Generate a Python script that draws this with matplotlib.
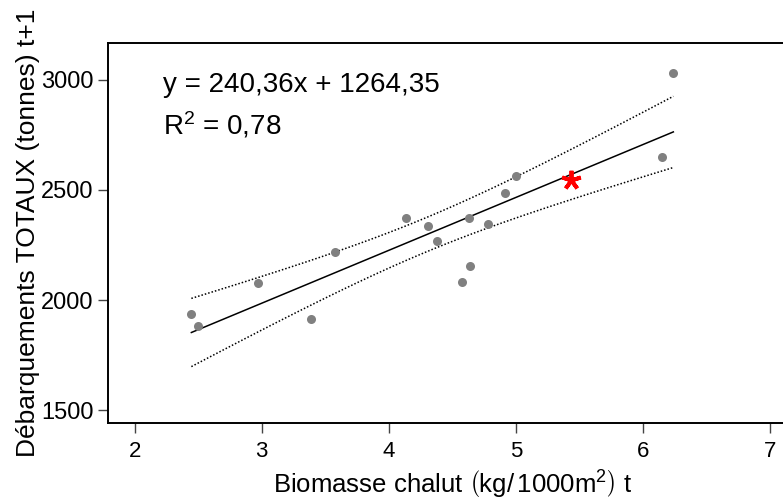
import numpy as np
import matplotlib
matplotlib.use('Agg')
import matplotlib.pyplot as plt

plt.rcParams['font.family'] = ['Liberation Sans', 'DejaVu Sans']
plt.rcParams['mathtext.fontset'] = 'custom'
plt.rcParams['mathtext.rm'] = 'Liberation Sans'
plt.rcParams['mathtext.it'] = 'Liberation Sans:italic'

# biomasse chalut (t) vs debarquements totaux (t+1)
biomasse = [2.446, 2.498, 2.969, 3.386, 3.575, 4.139, 4.307, 4.383,
            4.575, 4.635, 4.630, 4.782, 4.911, 4.997, 6.150, 6.239]
debarq = [1938, 1882, 2079, 1914, 2220, 2373, 2338, 2270,
          2083, 2156, 2374, 2344, 2485, 2565, 2649, 3032]

# point predit (etoile rouge)
pred_x = 5.43
pred_y = 2546

slope = 240.36
intercept = 1264.35
r2 = 0.78
t_crit = 2.1448  # t(0.975, 14 ddl)

x = np.array(biomasse)
y = np.array(debarq)
n = len(x)
resid = y - (slope * x + intercept)
s = np.sqrt(np.sum(resid ** 2) / (n - 2))
sxx = np.sum((x - x.mean()) ** 2)

xx = np.linspace(x.min(), x.max(), 120)
fit = slope * xx + intercept
half = t_crit * s * np.sqrt(1 / n + (xx - x.mean()) ** 2 / sxx)

fig = plt.figure(figsize=(7.83, 5), dpi=100)
ax = fig.add_axes([108 / 783, 77 / 500, 690 / 783, 380 / 500])

ax.plot(xx, fit, color='black', lw=1.1)
ax.plot(xx, fit + half, color='black', lw=1.1, ls=(0, (1, 1.3)))
ax.plot(xx, fit - half, color='black', lw=1.1, ls=(0, (1, 1.3)))
ax.plot(x, y, 'o', color='#808080', ms=6.5, mec='none')
ax.plot([pred_x], [pred_y], marker=(5, 2, 0), color='red', ms=14, mew=2.8, ls='none')

ax.set_xlim(1.79, 7.22)
ax.set_ylim(1441, 3168)
ax.set_xticks([2, 3, 4, 5, 6, 7])
ax.set_yticks([1500, 2000, 2500, 3000])
ax.tick_params(length=7, width=1, color='#444444')
ax.tick_params(axis='x', labelsize=16, pad=6)
ax.tick_params(axis='y', labelsize=17, pad=3.5)

for sp in ax.spines.values():
    sp.set_linewidth(1.4)

ax.text(0.08, 0.871, 'y = 240,36x + 1264,35', transform=ax.transAxes,
        fontsize=20, va='baseline', ha='left')
ax.text(0.08, 0.758, r'R$^2$ = 0,78', transform=ax.transAxes,
        fontsize=20, va='baseline', ha='left')

ax.set_xlabel(r'Biomasse chalut $\left(\mathrm{kg}/\,\mathrm{1000m}^2\right)$ t', fontsize=18.5, labelpad=5)
ax.set_ylabel('Débarquements TOTAUX (tonnes) t+1', fontsize=19, labelpad=1)

fig.savefig('out.png', dpi=100)
